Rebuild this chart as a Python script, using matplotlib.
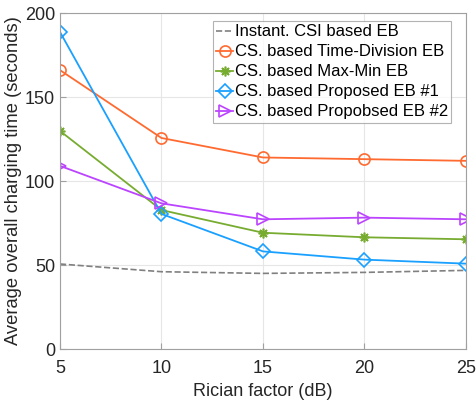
import numpy as np
import matplotlib.pyplot as plt

plt.rcParams['font.family'] = ['Liberation Sans', 'DejaVu Sans']

rician_db = [5, 10, 15, 20, 25]
instant_csi = [50.6, 46.0, 45.0, 45.6, 46.8]
time_division = [166, 125.6, 114, 113, 112]
max_min = [129.8, 82.7, 69.2, 66.5, 65.3]
proposed_1 = [188.7, 80.4, 58.1, 53.2, 50.8]
proposed_2 = [109, 86.7, 77.2, 78.2, 77.2]

labels = ['Instant. CSI based EB', 'CS. based Time-Division EB',
          'CS. based Max-Min EB', 'CS. based Proposed EB #1',
          'CS. based Propobsed EB #2']

fig = plt.figure(figsize=(4.76, 4.0), dpi=100)
ax = fig.add_axes([0.126, 0.1275, 0.853, 0.84])

ax.plot(rician_db, instant_csi, '--', color='#808080', lw=1.2, label=labels[0])
ax.plot(rician_db, time_division, '-o', color='#FF6A30', lw=1.3, ms=8,
        mfc='none', mew=1.2, label=labels[1])
ax.plot(rician_db, max_min, '-', marker=(8, 2, 0), color='#77AC30', lw=1.3, ms=7,
        mew=1.2, label=labels[2])
ax.plot(rician_db, proposed_1, '-D', color='#1AA0FF', lw=1.3, ms=7,
        mfc='none', mew=1.2, label=labels[3])
ax.plot(rician_db, proposed_2, '->', color='#BB44FF', lw=1.3, ms=9,
        mfc='none', mew=1.2, label=labels[4])

ax.set_xlim(5, 25)
ax.set_ylim(0, 200)
ax.set_xticks([5, 10, 15, 20, 25])
ax.set_yticks([0, 50, 100, 150, 200])
ax.grid(True, color='#E6E6E6', lw=0.8)
ax.set_axisbelow(True)
for s in ax.spines.values():
    s.set_color('#A0A0A0')
ax.tick_params(labelsize=13, colors='#262626', direction='in', length=4)
ax.tick_params(axis='both', color='#A0A0A0')
ax.tick_params(axis='x', pad=8)

ax.set_xlabel('Rician factor (dB)', fontsize=13, color='#262626', labelpad=4)
ax.set_ylabel('Average overall charging time (seconds)', fontsize=13.2,
              color='#262626', labelpad=2)

leg = ax.legend(loc='upper right', bbox_to_anchor=(0.964, 0.976), fontsize=12,
                frameon=True, fancybox=False, edgecolor='#A0A0A0',
                handlelength=1.0, handletextpad=0.1, borderpad=0.2,
                labelspacing=0.3, borderaxespad=0)
leg.get_frame().set_linewidth(0.8)

fig.savefig('out.png', dpi=100)
